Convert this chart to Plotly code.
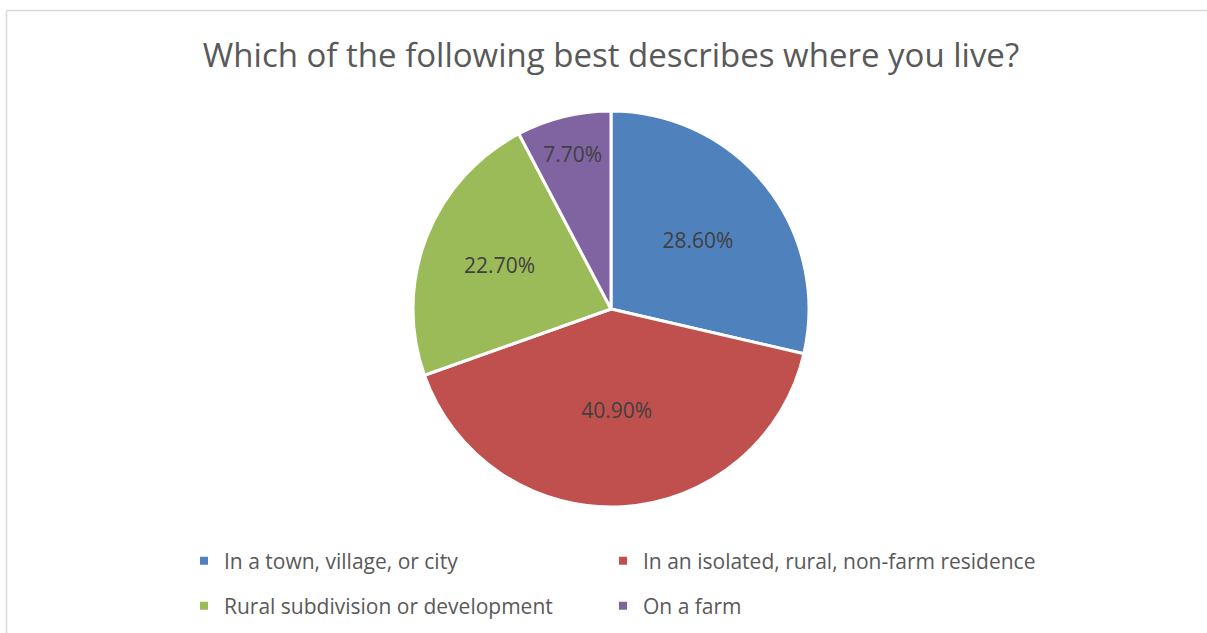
import plotly.graph_objects as go

title = "Which of the following best describes where you live?"
categories = [
    "In a town, village, or city",
    "In an isolated, rural, non-farm residence",
    "Rural subdivision or development",
    "On a farm",
]
values = [28.6, 40.9, 22.7, 7.7]
colors = ["#4F81BD", "#C0504D", "#9BBB59", "#8064A2"]
legend_ids = ["legend", "legend2", "legend3", "legend4"]

FONT = "Open Sans"
W, H = 1207, 633

fig = go.Figure()
fig.add_trace(go.Pie(
    labels=categories,
    values=values,
    sort=False,
    direction="clockwise",
    rotation=0,
    marker=dict(colors=colors, line=dict(color="white", width=3)),
    texttemplate="%{value:.2f}%",
    textposition="inside",
    insidetextorientation="horizontal",
    textfont=dict(family=FONT, size=21, color="#404040"),
    showlegend=False,
    hoverinfo="label+value",
    domain=dict(x=[(611 - 198) / W, (611 + 198) / W],
                y=[(H - 309 - 198) / H, (H - 309 + 198) / H]),
))

for cat, col, lg in zip(categories, colors, legend_ids):
    fig.add_trace(go.Scatter(
        x=[None], y=[None], mode="markers", name=cat,
        marker=dict(symbol="square", size=8, color=col),
        legend=lg, showlegend=True, hoverinfo="skip",
    ))

leg_common = dict(
    orientation="h", xanchor="left", yanchor="middle",
    font=dict(family=FONT, size=21, color="#595959"),
    bgcolor="rgba(0,0,0,0)", borderwidth=0, itemwidth=30,
)
col_x = [184, 603]
row_y = [561, 606]

fig.update_layout(
    width=W, height=H,
    margin=dict(l=0, r=0, t=0, b=0),
    paper_bgcolor="white", plot_bgcolor="white",
    title=dict(text=title, x=611 / W, xanchor="center", y=1 - 55 / H, yanchor="middle",
               font=dict(family=FONT, size=33, color="#595959")),
    xaxis=dict(visible=False), yaxis=dict(visible=False),
    legend=dict(x=col_x[0] / W, y=1 - row_y[0] / H, **leg_common),
    legend2=dict(x=col_x[1] / W, y=1 - row_y[0] / H, **leg_common),
    legend3=dict(x=col_x[0] / W, y=1 - row_y[1] / H, **leg_common),
    legend4=dict(x=col_x[1] / W, y=1 - row_y[1] / H, **leg_common),
    shapes=[
        dict(type="line", xref="paper", yref="paper", x0=6.5 / W, x1=1.0, y0=1 - 10.5 / H, y1=1 - 10.5 / H,
             line=dict(color="#D9D9D9", width=1.5)),
        dict(type="line", xref="paper", yref="paper", x0=6.5 / W, x1=6.5 / W, y0=0, y1=1 - 10.5 / H,
             line=dict(color="#D9D9D9", width=1.5)),
    ],
)

fig.write_html("out.html")
